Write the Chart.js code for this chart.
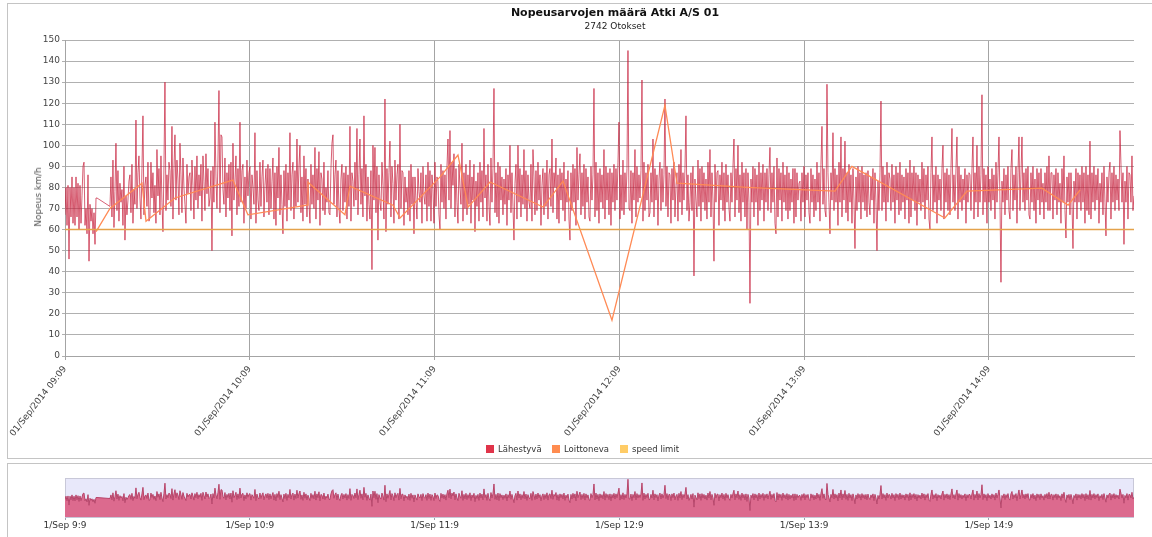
<!DOCTYPE html>
<html>
<head>
<meta charset="utf-8">
<script src="https://cdn.jsdelivr.net/npm/chart.js@4.4.1/dist/chart.umd.min.js"></script>
<style>
  html, body { margin:0; padding:0; background:#fff; }
  body { width:1152px; height:537px; overflow:hidden; position:relative; font-family:'DejaVu Sans', Verdana, sans-serif; }
  .panel { position:absolute; border:1px solid #c4c4c4; border-right:none; box-sizing:border-box; }
  #title { position:absolute; left:415px; width:400px; top:6px; text-align:center; font-weight:bold; font-size:11px; color:#111; }
  #subtitle { position:absolute; left:415px; width:400px; top:21px; text-align:center; font-size:9px; color:#222; }
  #ytitle { position:absolute; left:38px; top:197px; transform:translate(-50%,-50%) rotate(-90deg); font-size:9px; color:#555; white-space:nowrap; }
  .lg-box { position:absolute; width:8px; height:8px; top:445px; }
  .lg-txt { position:absolute; top:443px; font-size:8.5px; color:#333; white-space:nowrap; line-height:12px; }
  canvas { position:absolute; left:0; }
</style>
</head>
<body>
<div class="panel" style="left:7px; top:3px; width:1145px; height:456px;"></div>
<div class="panel" style="left:7px; top:463px; width:1145px; height:80px;"></div>
<canvas id="main" width="1152" height="458" style="top:0;"></canvas>
<canvas id="nav" width="1152" height="73" style="top:464px;"></canvas>
<div id="title">Nopeusarvojen määrä Atki A/S 01</div>
<div id="subtitle">2742 Otokset</div>
<div id="ytitle">Nopeus km/h</div>
<div class="lg-box" style="left:486px; background:#e0344a;"></div>
<div class="lg-txt" style="left:498px;">Lähestyvä</div>
<div class="lg-box" style="left:552px; background:#ff8c50;"></div>
<div class="lg-txt" style="left:564px;">Loittoneva</div>
<div class="lg-box" style="left:620px; background:#ffcc66;"></div>
<div class="lg-txt" style="left:632px;">speed limit</div>
<script>
// ---- data ----
const seriesNames = ['Lähestyvä', 'Loittoneva', 'speed limit'];
const hourTickLabels = ['01/Sep/2014 09:09','01/Sep/2014 10:09','01/Sep/2014 11:09','01/Sep/2014 12:09','01/Sep/2014 13:09','01/Sep/2014 14:09'];
const navTickLabels = ['1/Sep 9:9','1/Sep 10:9','1/Sep 11:9','1/Sep 12:9','1/Sep 13:9','1/Sep 14:9'];
const axisMaxMin = 347.1;          // minutes after 09:09 at right edge
const sampleStepMin = 0.3247;      // minutes between plotted samples
const earlyStartMin = 0;           // first block of Lähestyvä samples
const mainStartMin = 14.6;         // samples resume after the gap
const lahestyvaEarly = [67,80,62,81,46,80,66,85,63,80,62,85,66,82,60,81,63,76,90,92,62,70,58,86,45,72,64,70,58,68,53,75,75];
const lahestyvaMain = [
 71,85,66,93,61,78,101,69,88,64,82,73,79,62,90,55,76,67,74,83,
 86,68,91,63,79,72,112,70,87,95,75,65,89,114,67,81,85,71,92,64,
 66,92,75,87,68,81,63,98,76,89,67,95,73,59,90,130,69,86,74,92,
 88,71,109,65,89,105,74,93,84,67,101,86,68,94,80,72,63,91,77,85,
 87,69,93,81,65,90,74,95,70,86,76,91,64,95,83,69,96,77,89,71,
 75,88,50,90,73,111,85,70,93,126,68,105,104,79,72,94,66,87,75,91,
 69,92,57,101,74,83,95,67,89,71,111,73,88,91,63,85,70,93,76,87,
 90,65,86,80,72,106,63,88,74,69,92,71,85,93,66,81,89,73,91,67,
 89,70,83,94,65,87,62,90,75,99,67,86,72,58,88,71,91,64,87,74,
 106,69,86,92,65,88,71,103,73,90,100,68,85,64,95,72,89,66,84,73,
 63,91,72,86,70,99,65,89,74,97,62,87,84,69,92,67,80,73,88,68,
 67,89,101,105,72,86,93,66,88,70,63,84,91,69,87,73,90,65,86,71,
 109,64,87,83,71,92,74,108,67,86,103,72,89,66,114,76,91,64,85,72,
 65,88,41,100,74,99,68,90,55,86,73,69,92,81,65,122,59,89,72,87,
 102,66,90,82,63,93,74,86,91,65,110,70,88,87,62,85,73,80,67,88,
 64,91,72,85,58,85,74,65,89,78,73,87,63,90,76,72,86,64,92,71,
 88,64,86,79,63,92,71,85,83,67,60,91,73,88,70,86,65,90,103,74,
 107,70,92,81,96,66,89,73,63,91,80,72,101,64,87,70,91,67,86,72,
 93,63,85,74,91,59,83,71,87,64,92,73,88,66,108,75,86,64,91,71,
 62,94,73,89,127,68,87,66,92,63,90,74,85,67,84,72,89,62,86,74,
 100,68,87,71,55,82,91,65,100,73,89,66,86,72,98,70,88,64,86,73,
 70,91,64,98,85,67,88,69,92,74,86,62,81,89,67,87,71,93,65,86,
 89,71,103,68,87,80,94,65,86,63,89,74,87,69,92,64,84,73,88,65,
 55,87,69,91,73,89,62,99,74,86,96,67,87,71,91,65,89,73,85,66,
 64,90,74,86,127,66,92,69,87,63,89,73,86,70,98,65,90,74,87,67,
 89,62,87,73,91,69,89,74,92,111,65,86,69,93,67,87,73,89,145,70,
 69,88,63,87,74,98,66,90,73,86,75,88,131,64,92,69,87,74,91,66,
 68,87,73,103,66,89,74,86,62,84,92,69,89,73,86,122,71,90,66,87,
 86,63,89,74,92,66,81,87,64,91,73,98,67,87,74,89,114,69,86,64,
 73,87,69,90,38,84,74,66,93,71,89,64,90,73,87,69,84,65,92,73,
 98,66,87,74,45,91,73,87,88,62,86,74,92,69,87,64,91,73,86,70,
 64,87,73,90,103,66,89,74,100,68,86,64,92,73,87,66,89,60,87,73,
 25,84,73,90,66,89,73,86,62,92,69,87,74,91,64,87,73,89,69,86,
 99,68,87,73,90,63,58,94,66,89,74,87,64,92,73,86,69,90,65,87,
 69,84,73,89,63,89,66,87,74,82,83,64,87,73,90,66,86,74,87,68,
 63,89,73,86,66,84,69,92,73,87,64,91,109,72,89,69,66,129,87,73,
 58,87,74,106,69,89,73,86,62,92,73,104,66,89,74,102,68,87,64,91,
 73,86,63,89,74,51,85,69,90,73,87,65,90,73,86,69,87,66,88,73,
 67,85,74,89,63,87,73,50,83,69,87,121,69,90,73,86,64,92,73,87,
 84,69,91,73,86,63,90,74,87,67,92,69,86,73,85,65,89,74,87,63,
 93,66,87,74,90,69,87,62,86,73,84,69,92,73,89,65,86,74,90,65,
 60,87,104,69,86,73,90,63,86,74,84,69,89,100,65,87,73,89,69,86,
 67,89,108,73,86,69,89,104,65,90,73,86,69,84,74,89,63,86,73,87,
 86,69,89,104,65,87,73,100,66,90,73,86,124,67,89,73,86,63,90,73,
 84,69,89,74,86,65,92,73,87,104,73,35,83,73,89,67,86,74,90,69,
 65,89,98,69,86,74,90,63,87,104,69,86,104,73,87,69,89,74,90,67,
 65,87,73,90,69,84,63,89,74,87,67,89,73,82,65,87,73,90,69,95,
 69,87,87,65,86,74,89,67,87,73,82,63,89,73,95,69,56,85,73,87,
 67,87,73,51,83,73,89,65,87,73,86,69,90,73,87,63,90,69,86,67,
 102,65,87,73,90,69,86,74,89,63,82,73,87,67,90,73,57,85,73,87,
 92,65,87,73,90,69,86,74,84,69,107,91,73,87,53,83,73,90,65,87,
 86,73,95,69,76
];
const loittonevaMin = [10.1,14.6,25.0,26.3,35.7,54.5,59.4,78.6,78.9,90.9,92.5,106.5,108.8,121.8,127.6,130.9,138.0,155.2,161.7,177.6,194.8,198.7,221.4,250.0,255.5,285.7,292.9,317.2,325.7,329.6];
const loittonevaVal = [59,70,82,64,75,83.5,67,71.6,82.5,67,80.6,71.6,65.5,85,95.4,70.7,82.6,70.7,83,17,119,82,80,78.3,90,65.5,78.3,79.7,71.6,78.8];
const speedLimitVal = 60;
const speedLimitMin = [0, 347.1];

// ---- build points ----
const redPts = [];
lahestyvaEarly.forEach((v,i)=>redPts.push({x: earlyStartMin + i*sampleStepMin, y: v}));
lahestyvaMain.forEach((v,i)=>redPts.push({x: mainStartMin + i*sampleStepMin, y: v}));
const orangePts = loittonevaMin.map((m,i)=>({x:m, y:loittonevaVal[i]}));
const limitPts = speedLimitMin.map(m=>({x:m, y:speedLimitVal}));

const FONT = "'DejaVu Sans', Verdana, sans-serif";
Chart.defaults.font.family = FONT;

new Chart(document.getElementById('main'), {
  type: 'line',
  data: { datasets: [
    { label: seriesNames[0], data: redPts, borderColor: 'rgba(198,30,58,0.7)', borderWidth: 1, pointRadius: 0, tension: 0, order: 3 },
    { label: seriesNames[1], data: orangePts, borderColor: '#ff8a55', borderWidth: 1.3, pointRadius: 0, tension: 0, order: 2 },
    { label: seriesNames[2], data: limitPts, borderColor: '#e4a24a', borderWidth: 1.5, pointRadius: 0, tension: 0, order: 1 }
  ]},
  options: {
    responsive: false, animation: false, devicePixelRatio: 1,
    layout: { padding: { top: 40, right: 18, left: 0, bottom: 0 } },
    plugins: { legend: { display: false }, title: { display: false }, tooltip: { enabled: false } },
    scales: {
      x: {
        type: 'linear', min: 0, max: axisMaxMin,
        afterFit: s => { s.height = 102; },
        ticks: { stepSize: 60, includeBounds: false, autoSkip: false, minRotation: 52, maxRotation: 52,
                 padding: 4, color: '#444', font: { size: 9 },
                 callback: v => hourTickLabels[Math.round(v/60)] },
        grid: { color: '#a4a4a4', lineWidth: 1, tickLength: 4 },
        border: { color: '#a4a4a4' }
      },
      y: {
        min: 0, max: 150,
        afterFit: s => { s.width = 65; },
        ticks: { stepSize: 10, padding: 2, color: '#444', font: { size: 9 } },
        grid: { color: '#b0b0b0', lineWidth: 1, tickLength: 3 },
        border: { color: '#a4a4a4' }
      }
    }
  }
});

const navBg = {
  id: 'navBg',
  beforeDatasetsDraw(chart) {
    const a = chart.chartArea, c = chart.ctx;
    c.save(); c.fillStyle = '#e8e8fa'; c.fillRect(a.left, a.top, a.right - a.left, a.bottom - a.top);
    c.strokeStyle = '#c8c8d8'; c.lineWidth = 1; c.strokeRect(a.left + 0.5, a.top + 0.5, a.right - a.left - 1, a.bottom - a.top);
    c.restore();
  }
};

new Chart(document.getElementById('nav'), {
  type: 'line',
  data: { datasets: [
    { data: redPts, fill: 'origin', backgroundColor: '#dc6a8e', borderColor: '#b8456a', borderWidth: 1, pointRadius: 0, tension: 0 }
  ]},
  options: {
    responsive: false, animation: false, devicePixelRatio: 1,
    layout: { padding: { top: 14, right: 18, left: 65, bottom: 0 } },
    plugins: { legend: { display: false }, tooltip: { enabled: false } },
    scales: {
      x: {
        type: 'linear', min: 0, max: axisMaxMin,
        afterFit: s => { s.height = 20; },
        ticks: { stepSize: 60, includeBounds: false, autoSkip: false, maxRotation: 0, padding: 0, color: '#333', font: { size: 9 },
                 callback: v => navTickLabels[Math.round(v/60)] },
        grid: { drawOnChartArea: false, color: '#a0a0b0', tickLength: 3 },
        border: { display: false }
      },
      y: { display: false, min: 0, max: 150 }
    }
  },
  plugins: [navBg]
});
</script>
</body>
</html>
